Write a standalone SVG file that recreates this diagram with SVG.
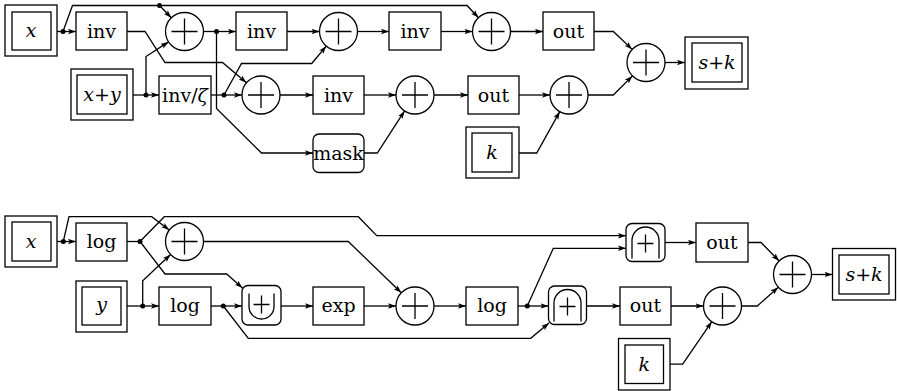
<svg xmlns="http://www.w3.org/2000/svg" width="897" height="391" viewBox="0 0 897 391">
<defs>
<style>
.b{fill:#fff;stroke:#000;stroke-width:1.3}
.s{fill:none;stroke:#000;stroke-width:1.3}
.w{fill:none;stroke:#000;stroke-width:1.3}
.a{marker-end:url(#ar)}
.t{font-family:'DejaVu Serif','Liberation Serif',serif;font-size:19px;text-anchor:middle;fill:#000}
.i{font-style:italic}
.d{fill:#000}
</style>
<marker id="ar" markerUnits="userSpaceOnUse" markerWidth="9" markerHeight="7" refX="8" refY="3" orient="auto">
<path d="M0,0.3 L8,3 L0,5.7 L1.8,3 Z" fill="#000"/>
</marker>
<g id="plus"><path d="M-13,0 H13 M0,-13 V13" class="w"/></g>
</defs>
<rect width="897" height="391" fill="#fff"/>

<!-- ===== connectors ===== -->
<g id="connectors" class="s">
<!-- top -->
<path d="M57,31.5 H63"/>
<path class="a" d="M63,31.5 H76"/>
<path class="a" d="M63,31.5 L72.5,5.5 H467 L478.5,17.7"/>
<path class="a" d="M159.5,5.5 L171.3,17.8"/>
<path class="a" d="M127,31.5 H145 L165,62.5 H222.5 L246.5,82.7"/>
<path d="M133,95 H146"/>
<path class="a" d="M146,95 H159"/>
<path class="a" d="M146,95 V56.5 L168.6,41.9"/>
<path d="M211,95 H224"/>
<path class="a" d="M224,95 H242"/>
<path class="a" d="M224,95 L241.5,63.5 H311.7 L326.3,46.1"/>
<path d="M203.5,31.5 H216.5"/>
<path class="a" d="M216.5,31.5 H236"/>
<path class="a" d="M216.5,31.5 V108.5 L261.5,153 H313"/>
<path class="a" d="M287,31.5 H319.5"/>
<path class="a" d="M357.5,31.5 H389"/>
<path class="a" d="M441,31.5 H472.5"/>
<path class="a" d="M510.5,31.5 H543"/>
<path class="a" d="M280,95 H313"/>
<path class="a" d="M364,95 H396"/>
<path class="a" d="M434,95 H468"/>
<path class="a" d="M519,95 H550"/>
<path class="a" d="M364,153 H377.3 L404.6,110.9"/>
<path class="a" d="M519,153 H536.7 L559.8,111.6"/>
<path class="a" d="M594,31.5 H613.3 L632.2,49.4"/>
<path class="a" d="M588,95 H613.3 L632.5,75.9"/>
<path class="a" d="M665,62.5 H685"/>
<!-- bottom -->
<path d="M57,241.5 H63.3"/>
<path class="a" d="M63.3,241.5 H76"/>
<path class="a" d="M63.3,241.5 L69,216.7 H151.7 L169.3,230"/>
<path d="M127,241.5 H140"/>
<path class="a" d="M140,241.5 L164.3,216.7 H358.3 L376.7,235.7 H626"/>
<path class="a" d="M140,241.5 L165,274 H226.7 L242.5,288"/>
<path d="M127,306 H142.7"/>
<path class="a" d="M142.7,306 H159"/>
<path class="a" d="M142.7,306 V280.7 L170.6,254.5"/>
<path d="M211,306 H223.3"/>
<path class="a" d="M223.3,306 H242"/>
<path class="a" d="M223.3,306 L248.3,338.3 H530.7 L549,323"/>
<path class="a" d="M203.5,241.5 H348.3 L401.3,292.8"/>
<path class="a" d="M281,306 H313"/>
<path class="a" d="M364,306 H396"/>
<path class="a" d="M434,306 H466"/>
<path d="M518,306 H527.3"/>
<path class="a" d="M527.3,306 H548.5"/>
<path class="a" d="M527.3,306 L553.3,248.3 H626"/>
<path class="a" d="M665,242.5 H696"/>
<path class="a" d="M586.5,306 H620"/>
<path class="a" d="M671,306 H703.5"/>
<path class="a" d="M670,364.2 H682.7 L711.8,321.7"/>
<path class="a" d="M748,242.5 H761 L779.2,261"/>
<path class="a" d="M741.5,306 H757.3 L778.3,287.2"/>
<path class="a" d="M811.5,274.5 H832.5"/>
</g>

<!-- junction dots -->
<g id="dots" class="d">
<circle cx="63" cy="31.5" r="2.5"/>
<circle cx="159.5" cy="5.5" r="2.5"/>
<circle cx="146" cy="95" r="2.5"/>
<circle cx="224" cy="95" r="2.5"/>
<circle cx="216.5" cy="31.5" r="2.5"/>
<circle cx="63.3" cy="241.5" r="2.5"/>
<circle cx="140" cy="241.5" r="2.5"/>
<circle cx="142.7" cy="306" r="2.5"/>
<circle cx="223.3" cy="306" r="2.5"/>
<circle cx="527.3" cy="306" r="2.5"/>
</g>

<!-- ===== top diagram nodes ===== -->
<g id="xA"><rect class="b" x="5" y="5" width="52" height="51"/><rect class="b" x="12" y="12" width="39" height="38"/><text class="t i" x="31" y="37">x</text></g>
<g id="invA1"><rect class="b" x="76" y="12" width="51" height="38"/><text class="t" x="101.5" y="38">inv</text></g>
<g id="xyA"><rect class="b" x="71" y="69" width="62" height="51"/><rect class="b" x="77" y="75" width="50" height="39"/><text class="t" x="102" y="101"><tspan class="i">x</tspan><tspan>+</tspan><tspan class="i">y</tspan></text></g>
<g id="invZ"><rect class="b" x="159" y="76" width="52" height="38"/><text class="t" x="185" y="102">inv/<tspan class="i">ζ</tspan></text></g>
<g id="c1"><circle class="b" cx="184.5" cy="31.5" r="19"/><use href="#plus" x="184.5" y="31.5"/></g>
<g id="c2"><circle class="b" cx="261" cy="95" r="19"/><use href="#plus" x="261" y="95"/></g>
<g id="invA2"><rect class="b" x="236" y="12" width="51" height="38"/><text class="t" x="261.5" y="38">inv</text></g>
<g id="c4"><circle class="b" cx="338.5" cy="31.5" r="19"/><use href="#plus" x="338.5" y="31.5"/></g>
<g id="invA3"><rect class="b" x="389" y="12" width="52" height="38"/><text class="t" x="415" y="38">inv</text></g>
<g id="c3"><circle class="b" cx="491.5" cy="31.5" r="19"/><use href="#plus" x="491.5" y="31.5"/></g>
<g id="outA1"><rect class="b" x="543" y="12" width="51" height="38"/><text class="t" x="568.5" y="38">out</text></g>
<g id="invA4"><rect class="b" x="313" y="76" width="51" height="38"/><text class="t" x="338.5" y="102">inv</text></g>
<g id="c5"><circle class="b" cx="415" cy="95" r="19"/><use href="#plus" x="415" y="95"/></g>
<g id="outA2"><rect class="b" x="468" y="76" width="51" height="38"/><text class="t" x="493.5" y="102">out</text></g>
<g id="c6"><circle class="b" cx="569" cy="95" r="19"/><use href="#plus" x="569" y="95"/></g>
<g id="mask"><rect class="b" x="313" y="134" width="51" height="38.5" rx="6"/><text class="t" x="338.5" y="160">mask</text></g>
<g id="kA"><rect class="b" x="466" y="127" width="53" height="51"/><rect class="b" x="472" y="133" width="40" height="39"/><text class="t i" x="492" y="159">k</text></g>
<g id="c7"><circle class="b" cx="646" cy="62.5" r="19"/><use href="#plus" x="646" y="62.5"/></g>
<g id="skA"><rect class="b" x="685" y="37" width="63" height="52"/><rect class="b" x="692" y="43" width="50" height="39"/><text class="t" x="717" y="69"><tspan class="i">s</tspan><tspan>+</tspan><tspan class="i">k</tspan></text></g>

<!-- ===== bottom diagram nodes ===== -->
<g id="xB"><rect class="b" x="5" y="216" width="52" height="51"/><rect class="b" x="12" y="222" width="39" height="39"/><text class="t i" x="31" y="247.5">x</text></g>
<g id="logB1"><rect class="b" x="76" y="223" width="51" height="38"/><text class="t" x="101.5" y="248">log</text></g>
<g id="yB"><rect class="b" x="76" y="281" width="51" height="51"/><rect class="b" x="82" y="287" width="39" height="38"/><text class="t i" x="101.5" y="311">y</text></g>
<g id="logB2"><rect class="b" x="159" y="287" width="52" height="38"/><text class="t" x="185" y="312">log</text></g>
<g id="cb1"><circle class="b" cx="184.5" cy="241.5" r="19"/><use href="#plus" x="184.5" y="241.5"/></g>
<g id="cup"><rect class="b" x="242" y="285.5" width="39" height="39.5" rx="6"/><path class="w" d="M249,293.5 V306.5 A12.5,12.5 0 0 0 274,306.5 V293.5 M253.5,304.5 H269.5 M261.5,295.5 V313.5"/></g>
<g id="exp"><rect class="b" x="313" y="287" width="51" height="38"/><text class="t" x="338.5" y="312">exp</text></g>
<g id="cb2"><circle class="b" cx="415" cy="306" r="19"/><use href="#plus" x="415" y="306"/></g>
<g id="logB3"><rect class="b" x="466" y="287" width="52" height="38"/><text class="t" x="492" y="312">log</text></g>
<g id="cap2"><rect class="b" x="548.5" y="286" width="38" height="38.5" rx="6"/><path class="w" d="M554,321.5 V303 A13.5,13.5 0 0 1 581,303 V321.5 M559.5,306.5 H575.5 M567.5,297.5 V315.5"/></g>
<g id="cap1"><rect class="b" x="626" y="223.5" width="39" height="38" rx="6"/><path class="w" d="M632,258.5 V240.5 A13.5,13.5 0 0 1 659,240.5 V258.5 M637.5,243.5 H653.5 M645.5,234.5 V252.5"/></g>
<g id="outB1"><rect class="b" x="696" y="223" width="52" height="39"/><text class="t" x="722" y="249">out</text></g>
<g id="outB2"><rect class="b" x="620" y="287" width="51" height="38"/><text class="t" x="645.5" y="312">out</text></g>
<g id="cb4"><circle class="b" cx="722.5" cy="306" r="19"/><use href="#plus" x="722.5" y="306"/></g>
<g id="kB"><rect class="b" x="618.5" y="338.5" width="51.5" height="51.5"/><rect class="b" x="625" y="345" width="38.5" height="38.5"/><text class="t i" x="644.3" y="371">k</text></g>
<g id="cb3"><circle class="b" cx="792.5" cy="274.5" r="19"/><use href="#plus" x="792.5" y="274.5"/></g>
<g id="skB"><rect class="b" x="832.5" y="248.5" width="63" height="51.5"/><rect class="b" x="839" y="255" width="50" height="39"/><text class="t" x="864" y="281"><tspan class="i">s</tspan><tspan>+</tspan><tspan class="i">k</tspan></text></g>
</svg>
